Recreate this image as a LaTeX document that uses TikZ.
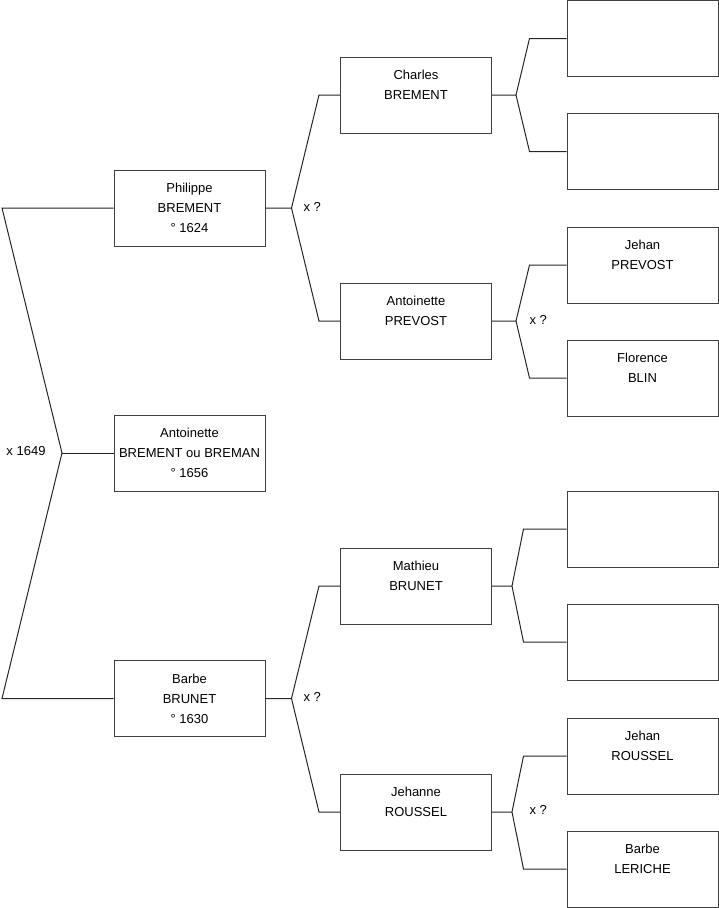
\documentclass[tikz,border=0pt]{standalone}
\usepackage{fontspec}
\setmainfont{Liberation Sans}

\begin{document}
\begin{tikzpicture}[x=1pt,y=-1pt,font=\fontsize{13}{20}\selectfont,
  nd/.style={draw=black!75,line width=1pt,align=center,minimum width=151pt,minimum height=76pt,inner sep=0pt},
  ln/.style={line width=1pt,black!85}]
  \useasboundingbox (0,0) rectangle (719,908);
  % generation 1
  \node[nd] (philippe) at (189.5,208) {Philippe\\BREMENT\\° 1624};
  \node[nd] (antoinette) at (189.5,453) {Antoinette\\BREMENT ou BREMAN\\° 1656};
  \node[nd] (barbe) at (189.5,698.5) {Barbe\\BRUNET\\° 1630};
  % generation 2
  \node[nd] (charles) at (416,95) {Charles\\BREMENT\\\phantom{0}};
  \node[nd] (aprevost) at (416,321) {Antoinette\\PREVOST\\\phantom{0}};
  \node[nd] (mathieu) at (416,586) {Mathieu\\BRUNET\\\phantom{0}};
  \node[nd] (jehanne) at (416,812) {Jehanne\\ROUSSEL\\\phantom{0}};
  % generation 3
  \node[nd] (e1) at (642.5,38.5) {};
  \node[nd] (e2) at (642.5,151.5) {};
  \node[nd] (jprevost) at (642.5,265) {Jehan\\PREVOST\\\phantom{0}};
  \node[nd] (fblin) at (642.5,378) {Florence\\BLIN\\\phantom{0}};
  \node[nd] (e3) at (642.5,529) {};
  \node[nd] (e4) at (642.5,642) {};
  \node[nd] (jroussel) at (642.5,756) {Jehan\\ROUSSEL\\\phantom{0}};
  \node[nd] (bleriche) at (642.5,869) {Barbe\\LERICHE\\\phantom{0}};
  % left bracket
  \coordinate (vtop) at (2,208);
  \coordinate (vmid) at (62,453);
  \coordinate (vbot) at (2,698.5);
  \draw[ln] (philippe.west) -- (vtop) -- (vmid) -- (vbot) -- (barbe.west);
  \draw[ln] (vmid) -- (antoinette.west);
  \node (m0) at (26,451) {x 1649};
  % brackets parent -> father / mother
  \foreach \p/\u/\l/\d/\e in {philippe/charles/aprevost/26/21,barbe/mathieu/jehanne/26/21,
    charles/e1/e2/24/37,aprevost/jprevost/fblin/24/37,mathieu/e3/e4/20/43,jehanne/jroussel/bleriche/20/43}
    \draw[ln] (\p.east) -- ++(\d,0) coordinate (v) -- ([xshift=-\e pt]\u.west) -- (\u.west)
      (v) -- ([xshift=-\e pt]\l.west) -- (\l.west);
  \node[anchor=west] (m1) at (300,207) {x ?};
  \node[anchor=west] (m2) at (300,697) {x ?};
  \node[anchor=west] (m3) at (526,320) {x ?};
  \node[anchor=west] (m4) at (526,810) {x ?};
\end{tikzpicture}
\end{document}
